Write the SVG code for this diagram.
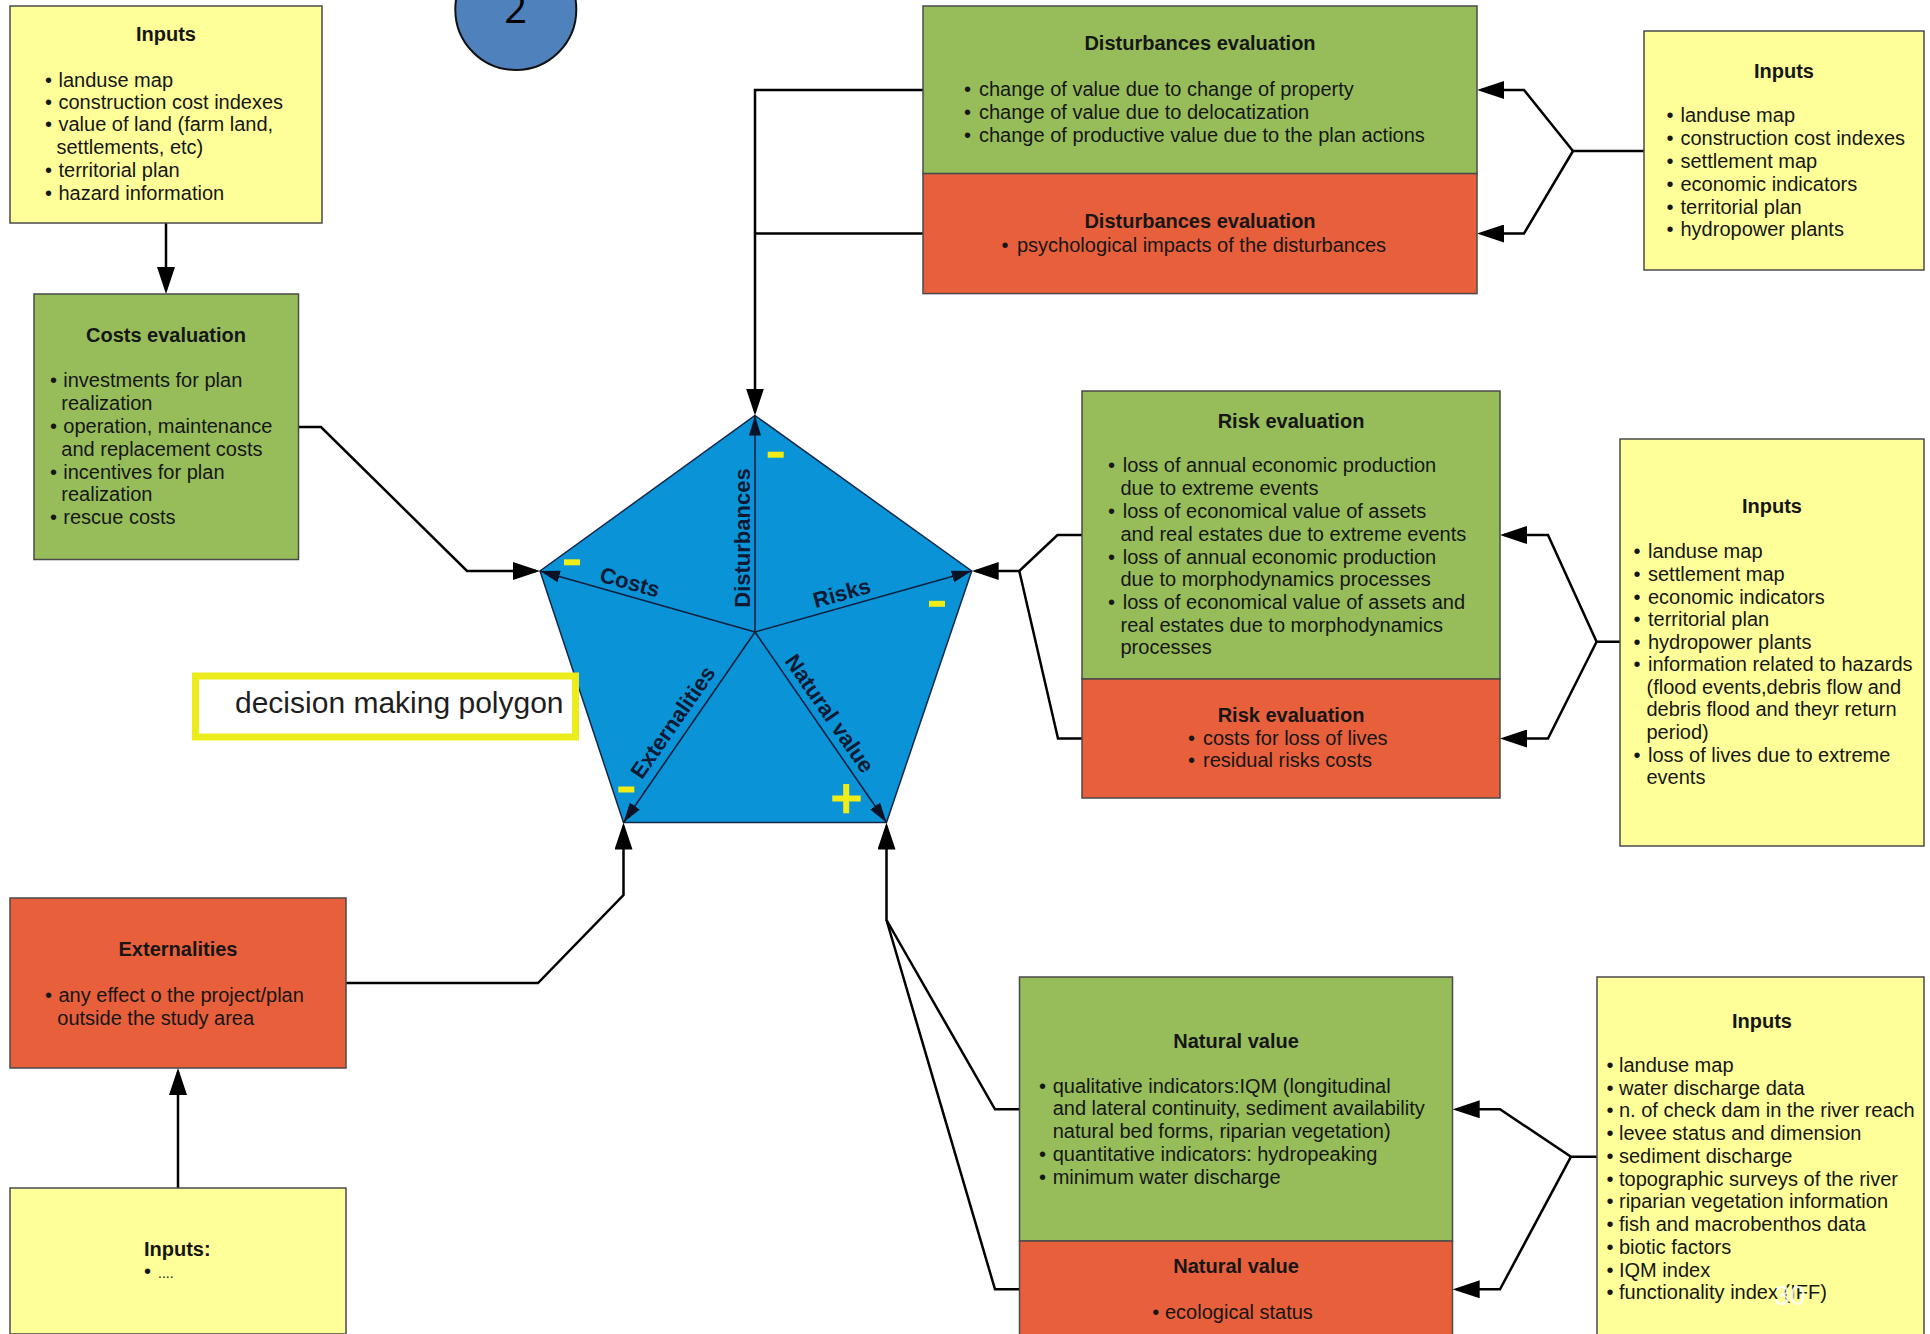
<svg xmlns="http://www.w3.org/2000/svg" width="1930" height="1334" viewBox="0 0 1930 1334">
  <style>
    .box { stroke: #4a4a4a; stroke-width: 1.5; }
    .yel { fill: #ffff99; }
    .grn { fill: #97bd5b; }
    .red { fill: #e85f3b; }
    .t { font-family: "Liberation Sans", Arial, sans-serif; font-size: 20px; fill: #161616; }
    .h { font-weight: bold; }
    .c { text-anchor: middle; }
    .con { fill: none; stroke: #000; stroke-width: 2.5; stroke-linejoin: miter; }
    .spoke { fill: none; stroke: #10213f; stroke-width: 1.6; }
    .lbl { font-family: "Liberation Sans", Arial, sans-serif; font-weight: bold; font-size: 22px; fill: #0e1a33; text-anchor: middle; }
    .sign { fill: #f0ec18; }
  </style>
  <defs>
    <marker id="arrow" viewBox="0 0 27 18" refX="23" refY="9" markerWidth="27" markerHeight="18" markerUnits="userSpaceOnUse" orient="auto">
      <path d="M0,0 L27,9 L0,18 Z" fill="#000"/>
    </marker>
    <marker id="spokeArrow" viewBox="0 0 20 12" refX="20" refY="6" markerWidth="20" markerHeight="12" markerUnits="userSpaceOnUse" orient="auto">
      <path d="M0,0 L20,6 L0,12 Z" fill="#0a1226"/>
    </marker>
  </defs>

  <rect width="1930" height="1334" fill="#ffffff"/>

  <!-- page badge -->
  <g id="badge">
    <circle cx="515.8" cy="9.5" r="60.5" fill="#4f81bd" stroke="#111" stroke-width="2"/>
    <text x="515.8" y="23" text-anchor="middle" font-family="'Open Sans', 'Noto Sans', sans-serif" font-size="40" fill="#000">2</text>
  </g>

  <!-- decision polygon -->
  <g id="polygon">
    <polygon points="755,415.5 971.7,571 886.5,822.5 623.5,822.5 540,571" fill="#0a93d6" stroke="#14284a" stroke-width="1.5"/>
    <path class="spoke" d="M755,632 L755,415.5" marker-end="url(#spokeArrow)"/>
    <path class="spoke" d="M755,632 L540,571" marker-end="url(#spokeArrow)"/>
    <path class="spoke" d="M755,632 L971.7,571" marker-end="url(#spokeArrow)"/>
    <path class="spoke" d="M755,632 L623.5,822.5" marker-end="url(#spokeArrow)"/>
    <path class="spoke" d="M755,632 L886.5,822.5" marker-end="url(#spokeArrow)"/>
    <text class="lbl" transform="translate(742,538) rotate(-90)" y="8">Disturbances</text>
    <text class="lbl" transform="translate(630,581.7) rotate(15.6)" y="8">Costs</text>
    <text class="lbl" transform="translate(841.7,592.7) rotate(-15.6)" y="8">Risks</text>
    <text class="lbl" transform="translate(672.5,722) rotate(-55.3)" y="8">Externalities</text>
    <text class="lbl" transform="translate(830,713.3) rotate(55.3)" y="8">Natural value</text>
    <rect class="sign" x="767.7" y="451.7" width="16" height="6"/>
    <rect class="sign" x="564" y="559.3" width="16" height="6"/>
    <rect class="sign" x="929" y="600.8" width="16" height="6"/>
    <rect class="sign" x="618.3" y="786.5" width="16" height="6"/>
    <rect class="sign" x="832.3" y="795.5" width="28.4" height="6"/>
    <rect class="sign" x="843.2" y="784" width="6" height="29.3"/>
  </g>

  <g id="polygon-caption">
    <rect x="195.5" y="676" width="380" height="61" fill="#ffffff" stroke="#ecec1c" stroke-width="7"/>
    <text x="235" y="713" font-family="'Liberation Sans', Arial, sans-serif" font-size="30" fill="#1e1e1e">decision making polygon</text>
  </g>

  <!-- connectors -->
  <g id="connectors">
    <path class="con" d="M166,223 V290" marker-end="url(#arrow)"/>
    <path class="con" d="M298.5,427 H321 L467,571 H536" marker-end="url(#arrow)"/>
    <path class="con" d="M923,90 H755 V411.5" marker-end="url(#arrow)"/>
    <path class="con" d="M923,233.5 H755"/>
    <path class="con" d="M1644,151 H1573 L1524,90 H1481" marker-end="url(#arrow)"/>
    <path class="con" d="M1573,151 L1524,233.5 H1481" marker-end="url(#arrow)"/>
    <path class="con" d="M1082,535 H1057.5 L1019.3,571 H975.7" marker-end="url(#arrow)"/>
    <path class="con" d="M1082,738.5 H1058 L1019.3,571"/>
    <path class="con" d="M1620,641.7 H1596.6 L1548,535 H1504" marker-end="url(#arrow)"/>
    <path class="con" d="M1596.6,641.7 L1548,738.5 H1504" marker-end="url(#arrow)"/>
    <path class="con" d="M1019.5,1109.3 H995 L886.5,920 V826.5" marker-end="url(#arrow)"/>
    <path class="con" d="M1019.5,1289.3 H995 L886.5,920"/>
    <path class="con" d="M1597,1156.7 H1571 L1500,1109.3 H1456.7" marker-end="url(#arrow)"/>
    <path class="con" d="M1571,1156.7 L1500,1289.3 H1456.7" marker-end="url(#arrow)"/>
    <path class="con" d="M346,983 H538 L623.5,895 V826.5" marker-end="url(#arrow)"/>
    <path class="con" d="M178,1188 V1072" marker-end="url(#arrow)"/>
  </g>

  <!-- costs inputs -->
  <g id="inputs-costs">
    <rect class="box yel" x="10" y="6" width="312" height="217"/>
    <text class="t h c" x="166" y="41">Inputs</text>
    <text class="t" y="87"><tspan x="45">•</tspan><tspan x="58.5">landuse map</tspan></text>
    <text class="t" y="109"><tspan x="45">•</tspan><tspan x="58.5">construction cost indexes</tspan></text>
    <text class="t" y="131"><tspan x="45">•</tspan><tspan x="58.5">value of land (farm land,</tspan></text>
    <text class="t" x="56.5" y="154">settlements, etc)</text>
    <text class="t" y="177"><tspan x="45">•</tspan><tspan x="58.5">territorial plan</tspan></text>
    <text class="t" y="200"><tspan x="45">•</tspan><tspan x="58.5">hazard information</tspan></text>
  </g>

  <g id="costs-evaluation">
    <rect class="box grn" x="34" y="294" width="264.5" height="265.5"/>
    <text class="t h c" x="166" y="342">Costs evaluation</text>
    <text class="t" y="387"><tspan x="50">•</tspan><tspan x="63.3">investments for plan</tspan></text>
    <text class="t" x="61.3" y="410">realization</text>
    <text class="t" y="433"><tspan x="50">•</tspan><tspan x="63.3">operation, maintenance</tspan></text>
    <text class="t" x="61.3" y="456">and replacement costs</text>
    <text class="t" y="479"><tspan x="50">•</tspan><tspan x="63.3">incentives for plan</tspan></text>
    <text class="t" x="61.3" y="501">realization</text>
    <text class="t" y="524"><tspan x="50">•</tspan><tspan x="63.3">rescue costs</tspan></text>
  </g>

  <g id="disturbances-evaluation">
    <rect class="box grn" x="923" y="6" width="554" height="167.6"/>
    <text class="t h c" x="1200" y="50">Disturbances evaluation</text>
    <text class="t" y="96"><tspan x="964">•</tspan><tspan x="979">change of value due to change of property</tspan></text>
    <text class="t" y="119"><tspan x="964">•</tspan><tspan x="979">change of value due to delocatization</tspan></text>
    <text class="t" y="142"><tspan x="964">•</tspan><tspan x="979">change of productive value due to the plan actions</tspan></text>
  </g>
  <g id="disturbances-evaluation-social">
    <rect class="box red" x="923" y="173.6" width="554" height="120"/>
    <text class="t h c" x="1200" y="228">Disturbances evaluation</text>
    <text class="t" y="252"><tspan x="1001.5">•</tspan><tspan x="1017">psychological impacts of the disturbances</tspan></text>
  </g>

  <g id="inputs-disturbances">
    <rect class="box yel" x="1644" y="31" width="280" height="239"/>
    <text class="t h c" x="1784" y="78">Inputs</text>
    <text class="t" y="122"><tspan x="1666.5">•</tspan><tspan x="1680.5">landuse map</tspan></text>
    <text class="t" y="145"><tspan x="1666.5">•</tspan><tspan x="1680.5">construction cost indexes</tspan></text>
    <text class="t" y="168"><tspan x="1666.5">•</tspan><tspan x="1680.5">settlement map</tspan></text>
    <text class="t" y="191"><tspan x="1666.5">•</tspan><tspan x="1680.5">economic indicators</tspan></text>
    <text class="t" y="214"><tspan x="1666.5">•</tspan><tspan x="1680.5">territorial plan</tspan></text>
    <text class="t" y="236"><tspan x="1666.5">•</tspan><tspan x="1680.5">hydropower plants</tspan></text>
  </g>

  <g id="risk-evaluation">
    <rect class="box grn" x="1082" y="391" width="418" height="288"/>
    <text class="t h c" x="1291" y="428">Risk evaluation</text>
    <text class="t" y="472"><tspan x="1108">•</tspan><tspan x="1122.7">loss of annual economic production</tspan></text>
    <text class="t" x="1120.5" y="495">due to extreme events</text>
    <text class="t" y="518"><tspan x="1108">•</tspan><tspan x="1122.7">loss of economical value of assets</tspan></text>
    <text class="t" x="1120.5" y="541">and real estates due to extreme events</text>
    <text class="t" y="564"><tspan x="1108">•</tspan><tspan x="1122.7">loss of annual economic production</tspan></text>
    <text class="t" x="1120.5" y="586">due to morphodynamics processes</text>
    <text class="t" y="609"><tspan x="1108">•</tspan><tspan x="1122.7">loss of economical value of assets and</tspan></text>
    <text class="t" x="1120.5" y="632">real estates due to morphodynamics</text>
    <text class="t" x="1120.5" y="654">processes</text>
  </g>
  <g id="risk-evaluation-lives">
    <rect class="box red" x="1082" y="679" width="418" height="119"/>
    <text class="t h c" x="1291" y="722">Risk evaluation</text>
    <text class="t" y="745"><tspan x="1188">•</tspan><tspan x="1203">costs for loss of lives</tspan></text>
    <text class="t" y="767"><tspan x="1188">•</tspan><tspan x="1203">residual risks costs</tspan></text>
  </g>

  <g id="inputs-risk">
    <rect class="box yel" x="1620" y="439" width="304" height="407"/>
    <text class="t h c" x="1772" y="513">Inputs</text>
    <text class="t" y="558"><tspan x="1633.5">•</tspan><tspan x="1648">landuse map</tspan></text>
    <text class="t" y="581"><tspan x="1633.5">•</tspan><tspan x="1648">settlement map</tspan></text>
    <text class="t" y="604"><tspan x="1633.5">•</tspan><tspan x="1648">economic indicators</tspan></text>
    <text class="t" y="626"><tspan x="1633.5">•</tspan><tspan x="1648">territorial plan</tspan></text>
    <text class="t" y="649"><tspan x="1633.5">•</tspan><tspan x="1648">hydropower plants</tspan></text>
    <text class="t" y="671"><tspan x="1633.5">•</tspan><tspan x="1648">information related to hazards</tspan></text>
    <text class="t" x="1646.5" y="694">(flood events,debris flow and</text>
    <text class="t" x="1646.5" y="716">debris flood and theyr return</text>
    <text class="t" x="1646.5" y="739">period)</text>
    <text class="t" y="762"><tspan x="1633.5">•</tspan><tspan x="1648">loss of lives due to extreme</tspan></text>
    <text class="t" x="1646.5" y="784">events</text>
  </g>

  <g id="natural-value">
    <rect class="box grn" x="1019.5" y="977" width="433" height="264"/>
    <text class="t h c" x="1236" y="1048">Natural value</text>
    <text class="t" y="1093"><tspan x="1039">•</tspan><tspan x="1052.7">qualitative indicators:IQM (longitudinal</tspan></text>
    <text class="t" x="1052.7" y="1115">and lateral continuity, sediment availability</text>
    <text class="t" x="1052.7" y="1138">natural bed forms, riparian vegetation)</text>
    <text class="t" y="1161"><tspan x="1039">•</tspan><tspan x="1052.7">quantitative indicators: hydropeaking</tspan></text>
    <text class="t" y="1184"><tspan x="1039">•</tspan><tspan x="1052.7">minimum water discharge</tspan></text>
  </g>
  <g id="natural-value-ecology">
    <rect class="box red" x="1019.5" y="1241" width="433" height="100"/>
    <text class="t h c" x="1236" y="1273">Natural value</text>
    <text class="t" y="1319"><tspan x="1152.3">•</tspan><tspan x="1165">ecological status</tspan></text>
  </g>

  <g id="inputs-natural">
    <rect class="box yel" x="1597" y="977" width="327" height="365"/>
    <text class="t h c" x="1762" y="1028">Inputs</text>
    <text class="t" y="1072"><tspan x="1606.5">•</tspan><tspan x="1619">landuse map</tspan></text>
    <text class="t" y="1095"><tspan x="1606.5">•</tspan><tspan x="1619">water discharge data</tspan></text>
    <text class="t" y="1117"><tspan x="1606.5">•</tspan><tspan x="1619">n. of check dam in the river reach</tspan></text>
    <text class="t" y="1140"><tspan x="1606.5">•</tspan><tspan x="1619">levee status and dimension</tspan></text>
    <text class="t" y="1163"><tspan x="1606.5">•</tspan><tspan x="1619">sediment discharge</tspan></text>
    <text class="t" y="1186"><tspan x="1606.5">•</tspan><tspan x="1619">topographic surveys of the river</tspan></text>
    <text class="t" y="1208"><tspan x="1606.5">•</tspan><tspan x="1619">riparian vegetation information</tspan></text>
    <text class="t" y="1231"><tspan x="1606.5">•</tspan><tspan x="1619">fish and macrobenthos data</tspan></text>
    <text class="t" y="1254"><tspan x="1606.5">•</tspan><tspan x="1619">biotic factors</tspan></text>
    <text class="t" y="1277"><tspan x="1606.5">•</tspan><tspan x="1619">IQM index</tspan></text>
    <text class="t" y="1299"><tspan x="1606.5">•</tspan><tspan x="1619">functionality index (IFF)</tspan></text>
  </g>

  <g id="externalities">
    <rect class="box red" x="10" y="898" width="336" height="170"/>
    <text class="t h c" x="178" y="956">Externalities</text>
    <text class="t" y="1002"><tspan x="45">•</tspan><tspan x="58.5">any effect o the project/plan</tspan></text>
    <text class="t" x="57.3" y="1025">outside the study area</text>
  </g>

  <g id="inputs-externalities">
    <rect class="box yel" x="10" y="1188" width="336" height="146"/>
    <text class="t h" x="144" y="1256">Inputs:</text>
    <text class="t" y="1278"><tspan x="144">•</tspan><tspan x="158" font-size="14">....</tspan></text>
  </g>

  <!-- slide number -->
  <text x="1790" y="1305" text-anchor="middle" font-family="'Liberation Sans', Arial, sans-serif" font-size="28" fill="#ffffff" fill-opacity="0.9">30</text>
</svg>
